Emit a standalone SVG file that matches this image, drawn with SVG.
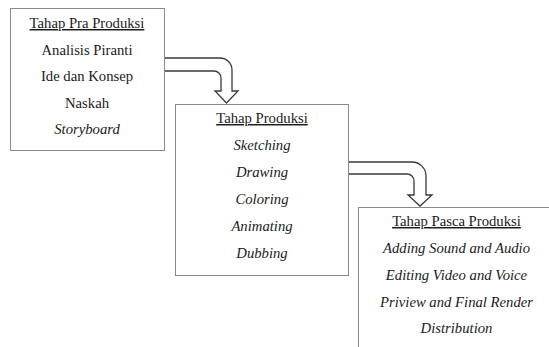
<svg xmlns="http://www.w3.org/2000/svg" width="549" height="347" viewBox="0 0 549 347">
<style>
.box{fill:#fff;stroke:#8a8a8a;stroke-width:1}
.arrow{fill:#fff;stroke:#3a3a3a;stroke-width:1.3;stroke-linejoin:miter}
text{font-family:"Liberation Serif","Times New Roman",serif;font-size:14.7px;fill:#1a1a1a;text-anchor:middle}
.h{text-decoration:underline}
.i{font-style:italic}
</style>
<rect width="549" height="347" fill="#fff"/>
<g id="connectors">
<path class="arrow" d="M164,58 H220 A12,12 0 0 1 232,70 V91 H238 L226.5,103 L215,91 H221 V78 A7,7 0 0 0 214,71 H164 Z"/>
<path class="arrow" d="M348,162 H412 A14,14 0 0 1 426,176 V195 H432 L420,206 L408,195 H414 V181 A7,7 0 0 0 407,174 H348 Z"/>
</g>
<g id="pra-produksi">
<rect class="box" x="10.5" y="8.5" width="154" height="142"/>
<text class="h" x="87" y="28">Tahap Pra Produksi</text>
<text x="87" y="54.5">Analisis Piranti</text>
<text x="87" y="81">Ide dan Konsep</text>
<text x="87" y="107.5">Naskah</text>
<text class="i" x="87" y="134">Storyboard</text>
</g>
<g id="produksi">
<rect class="box" x="175.5" y="104.5" width="173" height="171"/>
<text class="h" x="262" y="123">Tahap Produksi</text>
<text class="i" x="262" y="150">Sketching</text>
<text class="i" x="262" y="177">Drawing</text>
<text class="i" x="262" y="204">Coloring</text>
<text class="i" x="262" y="231">Animating</text>
<text class="i" x="262" y="258">Dubbing</text>
</g>
<g id="pasca-produksi">
<rect class="box" x="358.5" y="207.5" width="260" height="200"/>
<text class="h" x="456.5" y="226">Tahap Pasca Produksi</text>
<text class="i" x="456.5" y="253">Adding Sound and Audio</text>
<text class="i" x="456.5" y="280">Editing Video and Voice</text>
<text class="i" x="456.5" y="307">Priview and Final Render</text>
<text class="i" x="456.5" y="333">Distribution</text>
</g>
</svg>
